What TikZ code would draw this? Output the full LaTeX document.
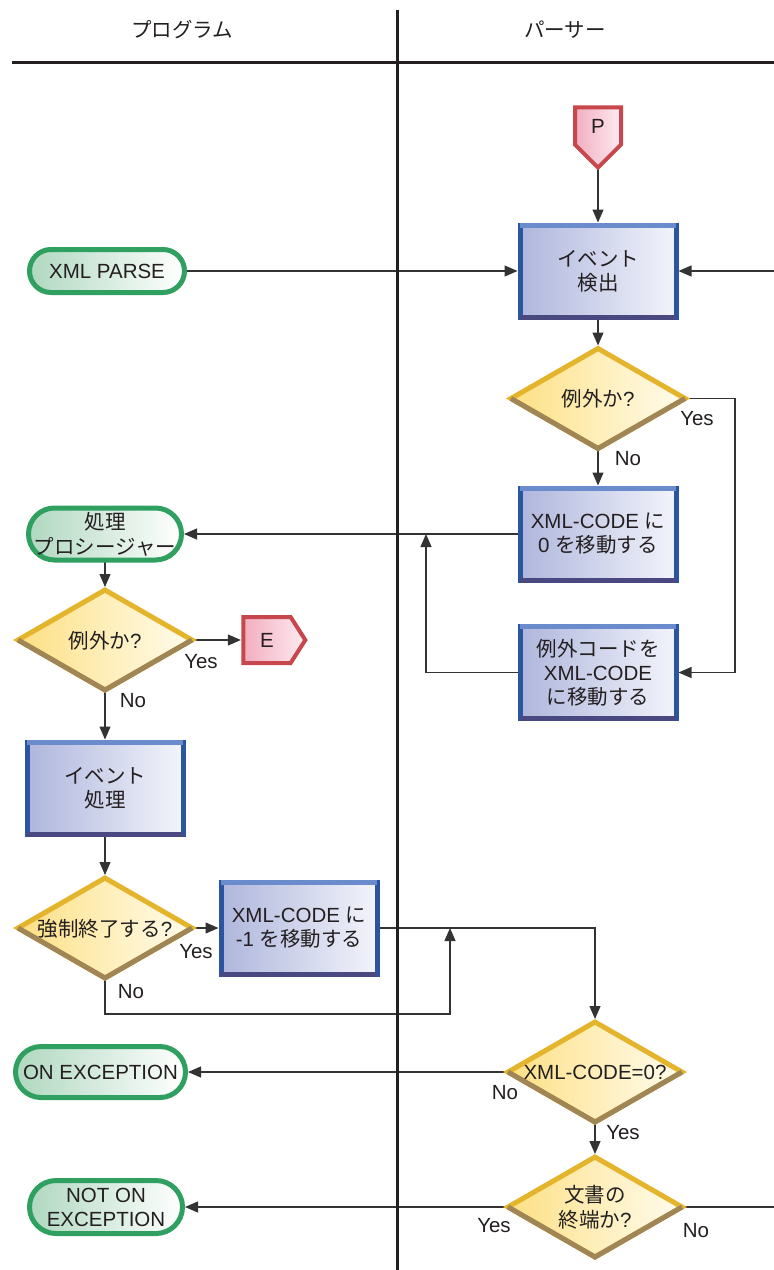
\documentclass[tikz,border=0pt]{standalone}
\usepackage{fontspec}
\setmainfont{Liberation Sans}
\newfontfamily\jp{Noto Sans CJK JP}
\usetikzlibrary{shapes.geometric,shapes.misc,shapes.symbols,arrows.meta,backgrounds}
\definecolor{ink}{HTML}{231F20}
\definecolor{lineC}{HTML}{333333}
\definecolor{boxL}{HTML}{AEB6DC}
\definecolor{boxR}{HTML}{F3F4FB}
\definecolor{boxBorder}{HTML}{2B55A0}
\definecolor{boxTop}{HTML}{6A8CCC}
\definecolor{boxBot}{HTML}{4A4880}
\definecolor{diaL}{HTML}{FDE084}
\definecolor{diaR}{HTML}{FFFCEE}
\definecolor{diaTop}{HTML}{E4B42C}
\definecolor{diaBot}{HTML}{A08656}
\definecolor{termL}{HTML}{B0D8C0}
\definecolor{termR}{HTML}{FFFFFF}
\definecolor{termBorder}{HTML}{2FA060}
\definecolor{offL}{HTML}{F2AEC0}
\definecolor{offR}{HTML}{FDEAF0}
\definecolor{offBorder}{HTML}{C8474C}
\definecolor{offBot}{HTML}{A0584A}
\newcommand\mylines[1]{\makebox[0pt]{\raisebox{-3pt}[\height][\depth]{\begin{tabular}{@{}c@{}}#1\end{tabular}}}}
\newcommand\boxbevel[1]{%
  \draw[line width=5pt, boxTop] (#1.north west) -- (#1.north east);
  \draw[line width=5pt, boxBot] (#1.south west) -- (#1.south east);}
\newcommand\diabevel[1]{%
  \draw[line width=5pt, diaBot, line join=miter] (#1.west) -- (#1.south) -- (#1.east);}
\begin{document}
\begin{tikzpicture}[x=1pt,y=-1pt,
  font=\fontsize{20.5}{24}\selectfont, text=ink,
  proc/.style={rectangle, draw=boxBorder, line width=5pt, left color=boxL, right color=boxR,
    minimum width=156pt, minimum height=92pt, inner sep=0pt, outer sep=0pt, align=center},
  dec/.style={diamond, draw=diaTop, line width=5pt, left color=diaL, right color=diaR,
    minimum width=174pt, minimum height=100pt, inner sep=0pt, outer sep=0pt, line join=miter},
  termin/.style={rounded rectangle, draw=termBorder, line width=5pt, left color=termL, right color=termR,
    inner sep=0pt, outer sep=0pt},
  offp/.style={signal, draw=offBorder, line width=4pt, left color=offL,
    right color=offR, inner sep=0pt, outer sep=0pt},
  conn/.style={draw=lineC, line width=1.2pt},
  arr/.style={conn, -{Triangle[length=13pt,width=11pt]}, shorten >=2.5pt},
  lbl/.style={inner sep=0pt},
  lane/.style={draw=ink, line width=3pt}
]
\useasboundingbox (0,0) rectangle (774,1270);
% lanes
\coordinate (laneTop) at (397,10);
\coordinate (laneBot) at (397,1270);
\coordinate (hL) at (12,62);
\coordinate (hR) at (774,62);
\draw[lane] (laneTop) -- (laneBot);
\draw[lane] (hL) -- (hR);
\node (hprog) at (182,30) {\jp プログラム};
\node (hpars) at (565,30) {\jp パーサー};
% parser column
\node[offp, signal to=south, signal pointer angle=90, minimum width=46pt, minimum height=44pt] (P) at (598,126) {P};
\node[proc] (det) at (598,271) {{\jp イベント}\\{\jp 検出}};
\node[dec] (ex1) at (598,398.5) {\mylines{{\jp 例外か}?}};
\node[proc] (mv0) at (598,534) {XML-CODE {\jp に}\\0 {\jp を移動する}};
\node[proc] (mvexc) at (598,672.5) {{\jp 例外コードを}\\XML-CODE\\{\jp に移動する}};
\node[dec] (xc0) at (595,1072) {\mylines{XML-CODE=0?}};
\node[dec] (eod) at (595,1207) {\mylines{{\jp 文書の}\\{\jp 終端か}?}};
% program column
\node[termin, minimum width=155pt, minimum height=43pt] (xmlparse) at (107,271) {\mylines{XML PARSE}};
\node[termin, minimum width=153pt, minimum height=52pt] (procd) at (105,534) {\mylines{{\jp 処理}\\{\jp プロシージャー}}};
\node[dec] (ex2) at (105,640) {\mylines{{\jp 例外か}?}};
\node[offp, signal to=east, signal pointer angle=115, minimum width=62pt, minimum height=46pt] (E) at (267,640) {E};
\node[proc] (evp) at (105,788) {{\jp イベント}\\{\jp 処理}};
\node[dec] (quit) at (105,928) {\mylines{{\jp 強制終了する}?}};
\node[proc] (mvm1) at (299,928) {XML-CODE {\jp に}\\-1 {\jp を移動する}};
\node[termin, minimum width=170pt, minimum height=51pt] (onexc) at (100.5,1072) {\mylines{ON EXCEPTION}};
\node[termin, minimum width=153pt, minimum height=53pt] (notonexc) at (106,1207) {\mylines{NOT ON\\EXCEPTION}};
% bevels
\boxbevel{det}\boxbevel{mv0}\boxbevel{mvexc}\boxbevel{evp}\boxbevel{mvm1}
\diabevel{ex1}\diabevel{ex2}\diabevel{quit}\diabevel{xc0}\diabevel{eod}
% free ends
\coordinate (rin) at (774,271);
\coordinate (rout) at (774,1207);
\coordinate (j1) at (426,534);
\coordinate (j2) at (450,928);
% labels
\node[lbl] (y1) at (697,419) {Yes};
\node[lbl] (n1) at (628,459) {No};
\node[lbl] (y2) at (201,662) {Yes};
\node[lbl] (n2) at (133,701) {No};
\node[lbl] (y3) at (196,952) {Yes};
\node[lbl] (n3) at (131,992) {No};
\node[lbl] (n4) at (505,1093) {No};
\node[lbl] (y4) at (623,1133) {Yes};
\node[lbl] (y5) at (494,1226) {Yes};
\node[lbl] (n5) at (696,1231) {No};
\begin{pgfonlayer}{background}
\draw[arr] (P.south) -- (det.north);
\draw[arr] (xmlparse.east) -- (det.west);
\draw[arr] (rin) -- (det.east);
\draw[arr, shorten >=3pt] (det.south) -- (ex1.north);
\draw[arr] (ex1.east) -- ++(50,0) |- (mvexc.east);
\draw[arr] (ex1.south) -- (mv0.north);
\draw[arr] (mv0.west) -- (procd.east);
\draw[arr, shorten >=0pt] (mvexc.west) -| (j1);
\draw[arr, shorten >=3pt] (procd.south) -- (ex2.north);
\draw[arr] (ex2.east) -- (E.west);
\draw[arr] (ex2.south) -- (evp.north);
\draw[arr, shorten >=3pt] (evp.south) -- (quit.north);
\draw[arr] (quit.east) -- (mvm1.west);
\draw[arr, shorten >=3pt] (mvm1.east) -| (xc0.north);
\draw[arr, shorten >=0pt] (quit.south) -- ++(0,36) -| (j2);
\draw[arr] (xc0.west) -- (onexc.east);
\draw[arr, shorten >=3pt] (xc0.south) -- (eod.north);
\draw[arr] (eod.west) -- (notonexc.east);
\draw[conn] (eod.east) -- (rout);
\end{pgfonlayer}
\end{tikzpicture}
\end{document}
